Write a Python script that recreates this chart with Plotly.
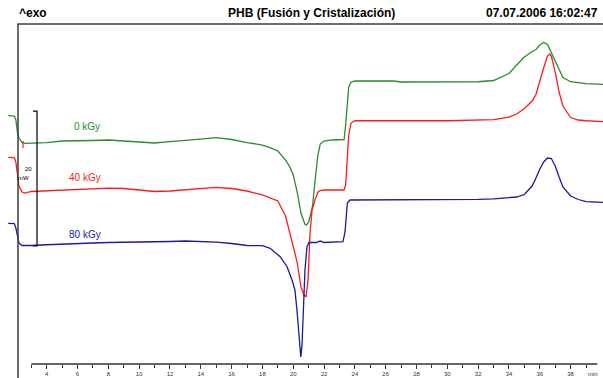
import plotly.graph_objects as go

# ---------------- data (time in min, heat flow in mW, arbitrary offset) -------------
t_0kgy = [1.5, 1.9, 2.0, 2.1, 2.2, 2.4, 2.6, 3, 4, 5, 6, 7, 8, 9, 10, 11, 12, 13, 14, 15, 16, 17,
          18, 18.5, 19, 19.5, 19.75, 20, 20.25, 20.5, 20.75, 20.85,
          21, 21.15, 21.25, 21.4, 21.5, 21.6, 21.75,
          22, 22.5, 23, 23.3, 23.4, 23.5, 23.6, 23.75, 24,
          26, 26.5, 27, 30, 32, 33,
          34, 34.5, 35, 35.5, 35.75, 36, 36.25, 36.5, 36.75, 37, 37.25, 37.5,
          38, 38.5, 39, 40.1]
hf_0kgy = [36.79, 36.74, 36.15, 34.37, 33.48, 32.81, 32.70, 32.74,
           32.79, 33.04, 33.04, 33.11, 33.19, 33.04, 32.79, 32.74, 32.96, 33.19, 33.33, 33.53, 33.26, 32.81,
           32.44, 32.07, 31.56, 30.22, 29.33, 28.00, 25.53, 22.37, 20.74, 20.59,
           21.04, 22.37, 23.41, 26.81, 28.74, 30.96, 32.59,
           33.04, 33.19, 33.19, 33.26, 35.41, 39.11, 41.04, 41.78, 41.93,
           41.93, 41.93, 41.78, 41.78, 41.82, 42.00,
           43.04, 44.30, 45.48, 46.30, 46.59, 47.26, 47.63, 47.33, 46.07, 44.89, 43.56, 42.44,
           41.82, 41.63, 41.53, 41.44]

t_40kgy = [1.5, 1.9, 2.0, 2.1, 2.2, 2.4, 2.6, 3, 4, 5, 6, 7, 8, 9, 10, 11, 12, 13, 14, 15, 16, 17,
           18, 18.5, 19, 19.5, 19.75, 20, 20.25, 20.5, 20.7, 20.83,
           20.96, 21.09, 21.22, 21.41, 21.61, 21.75, 22, 23.3, 23.4, 23.5,
           23.6, 23.75, 24, 30, 32, 33, 34, 34.5, 35, 35.5,
           35.75, 36, 36.25, 36.5, 36.65, 36.75, 37, 37.25, 37.5, 38,
           38.5, 39, 40.1]
hf_40kgy = [30.62, 30.59, 29.93, 28.00, 26.37, 25.48, 25.33, 25.56,
            25.67, 25.85, 25.93, 26.07, 26.07, 26.00, 25.78, 25.56, 25.63, 25.85, 26.07, 26.18, 26.00, 25.63,
            25.04, 24.59, 24.15, 21.93, 19.70, 17.63, 15.11, 11.41, 10.22, 9.93,
            12.44, 19.41, 22.81, 24.30, 25.48, 25.70, 25.78, 25.78, 26.52, 30.22,
            33.93, 35.70, 36.04, 36.04, 36.15, 36.22, 36.59, 37.04, 37.85, 38.96,
            39.93, 42.07, 43.85, 45.63, 45.93, 45.63, 43.26, 40.30, 38.22, 36.52,
            36.15, 36.04, 35.90]

t_80kgy = [1.5, 1.9, 2.0, 2.1, 2.2, 2.4, 2.6, 3, 4, 5, 6, 7, 8, 9, 10, 11, 12, 13, 14, 15, 16, 17,
           18, 18.5, 19.15, 19.6, 19.92, 20.11, 20.24, 20.34, 20.44, 20.49,
           20.57, 20.64, 20.76, 20.89, 21.02, 21.5, 21.75, 22, 23, 23.23,
           23.36, 23.42, 23.51, 23.68, 24, 30, 32, 33, 34, 34.5,
           35, 35.5, 35.75, 36, 36.25, 36.5, 36.75, 37, 37.25, 37.5,
           38, 38.5, 39, 40.1]
hf_80kgy = [20.84, 20.81, 20.15, 18.81, 17.93, 17.56, 17.53, 17.56,
            17.67, 17.78, 17.88, 17.93, 18.00, 18.03, 18.03, 18.03, 18.15, 18.22, 18.19, 18.07, 17.85, 17.56,
            17.53, 17.14, 15.90, 14.41, 12.44, 10.96, 8.00, 5.04, 2.07, 1.04,
            2.81, 6.52, 13.93, 17.33, 18.00, 18.00, 18.22, 18.00, 18.07, 18.12,
            19.56, 21.78, 23.85, 24.30, 24.30, 24.30, 24.40, 24.47, 24.59, 24.74,
            25.11, 26.37, 27.56, 28.89, 29.93, 30.52, 30.44, 29.33, 27.70, 26.22,
            24.89, 24.37, 24.07, 23.96]

series_names = ["0 kGy", "40 kGy", "80 kGy"]
series_colors = ["#2a8c2a", "#ff1a1a", "#1a1a9c"]

major_ticks = [4, 6, 8, 10, 12, 14, 16, 18, 20, 22, 24, 26, 28, 30, 32, 34, 36, 38]
minor_ticks = [3, 5, 7, 9, 11, 13, 15, 17, 19, 21, 23, 25, 27, 29, 31, 33, 35, 37, 39]

title_text = "PHB (Fusión y Cristalización)"
left_header = "^exo"
date_text = "07.07.2006 16:02:47"
scale_mw = 20

# ---------------- figure ----------------
W, H = 603, 378
X_RANGE = [0.970, 40.101]
Y_RANGE = [0, 53.93]
FONT = "Liberation Sans, Arial, sans-serif"

fig = go.Figure()

for t, hf, name, col in zip([t_0kgy, t_40kgy, t_80kgy],
                            [hf_0kgy, hf_40kgy, hf_80kgy],
                            series_names, series_colors):
    fig.add_trace(go.Scatter(x=t, y=hf, mode="lines", name=name,
                             line=dict(color=col, width=1.3), showlegend=False,
                             hoverinfo="skip"))

# small red start marker
fig.add_trace(go.Scatter(x=[2.463], y=[32.52], mode="markers",
                         marker=dict(symbol="line-ns", size=5, line=dict(color="#ff1a1a", width=1.2)),
                         showlegend=False, hoverinfo="skip"))

# scale bar (20 mW)
sb_x, sb_x0, sb_y0 = 3.371, 3.11, 17.48
fig.add_trace(go.Scatter(x=[sb_x0, sb_x, sb_x, sb_x0],
                         y=[sb_y0 + scale_mw, sb_y0 + scale_mw, sb_y0, sb_y0],
                         mode="lines", line=dict(color="black", width=1.2),
                         showlegend=False, hoverinfo="skip"))

# curve labels
label_pos = [(6.62, 35.19), (6.49, 27.59), (6.49, 19.26)]
for (lx, ly), name, col in zip(label_pos, series_names, series_colors):
    fig.add_annotation(x=lx, y=ly, text=name, showarrow=False, xanchor="center",
                       yanchor="middle", font=dict(family=FONT, size=10, color=col))

fig.add_annotation(x=2.787, y=28.89, text=str(scale_mw), showarrow=False,
                   font=dict(family=FONT, size=6, color="black"))
fig.add_annotation(x=2.495, y=27.56, text="mW", showarrow=False,
                   font=dict(family=FONT, size=6, color="black"))

# header
hdr_y = (364 - 12.7) / 364
fig.add_annotation(xref="paper", yref="paper", x=17.0 / W, y=hdr_y, text=left_header,
                   xanchor="left", yanchor="middle", showarrow=False,
                   font=dict(family=FONT, size=12, color="black", weight="bold"))
fig.add_annotation(xref="paper", yref="paper", x=311.5 / W, y=hdr_y, text=title_text,
                   xanchor="center", yanchor="middle", showarrow=False,
                   font=dict(family=FONT, size=12, color="black", weight="bold"))
fig.add_annotation(xref="paper", yref="paper", x=599.5 / W, y=hdr_y, text=date_text,
                   xanchor="right", yanchor="middle", showarrow=False,
                   font=dict(family=FONT, size=12, color="black", weight="bold"))

# "min" unit label
fig.add_annotation(xref="paper", yref="paper", x=593 / W, y=(364 - 374) / 364, text="min",
                   xanchor="center", yanchor="middle", showarrow=False,
                   font=dict(family=FONT, size=6, color="#333333"))

frame_col = "#3c3c3c"
fig.add_shape(type="line", xref="paper", yref="paper", x0=17.3 / W, x1=1.0,
              y0=(364 - 24) / 364, y1=(364 - 24) / 364, line=dict(color=frame_col, width=1.5))
fig.add_shape(type="line", xref="paper", yref="paper", x0=18 / W, x1=18 / W,
              y0=(364 - 24) / 364, y1=(364 - 379) / 364, line=dict(color=frame_col, width=1.5))
# time axis line (from 3 min to the end of the scale)
fig.add_shape(type="line", xref="paper", yref="paper", x0=31.3 / W, x1=597.5 / W,
              y0=0, y1=0, line=dict(color="#333333", width=1.3))

fig.update_layout(
    width=W, height=H,
    margin=dict(l=0, r=0, t=0, b=14, pad=0),
    paper_bgcolor="white", plot_bgcolor="white",
    xaxis=dict(range=X_RANGE, showgrid=False, zeroline=False, showline=False,
               tickmode="array", tickvals=major_ticks, ticktext=[str(v) for v in major_ticks],
               ticks="outside", ticklen=4, tickwidth=1, tickcolor="#333333",
               tickfont=dict(family=FONT, size=6, color="#333333"),
               minor=dict(tickmode="array", tickvals=minor_ticks, ticks="outside",
                          ticklen=3, tickwidth=1, tickcolor="#333333", showgrid=False),
               automargin=False, fixedrange=True),
    yaxis=dict(range=Y_RANGE, visible=False, automargin=False, fixedrange=True),
)

fig.write_html("out.html", config={"displayModeBar": False},
               post_script="document.body.style.margin='0';document.body.style.overflow='hidden';")
